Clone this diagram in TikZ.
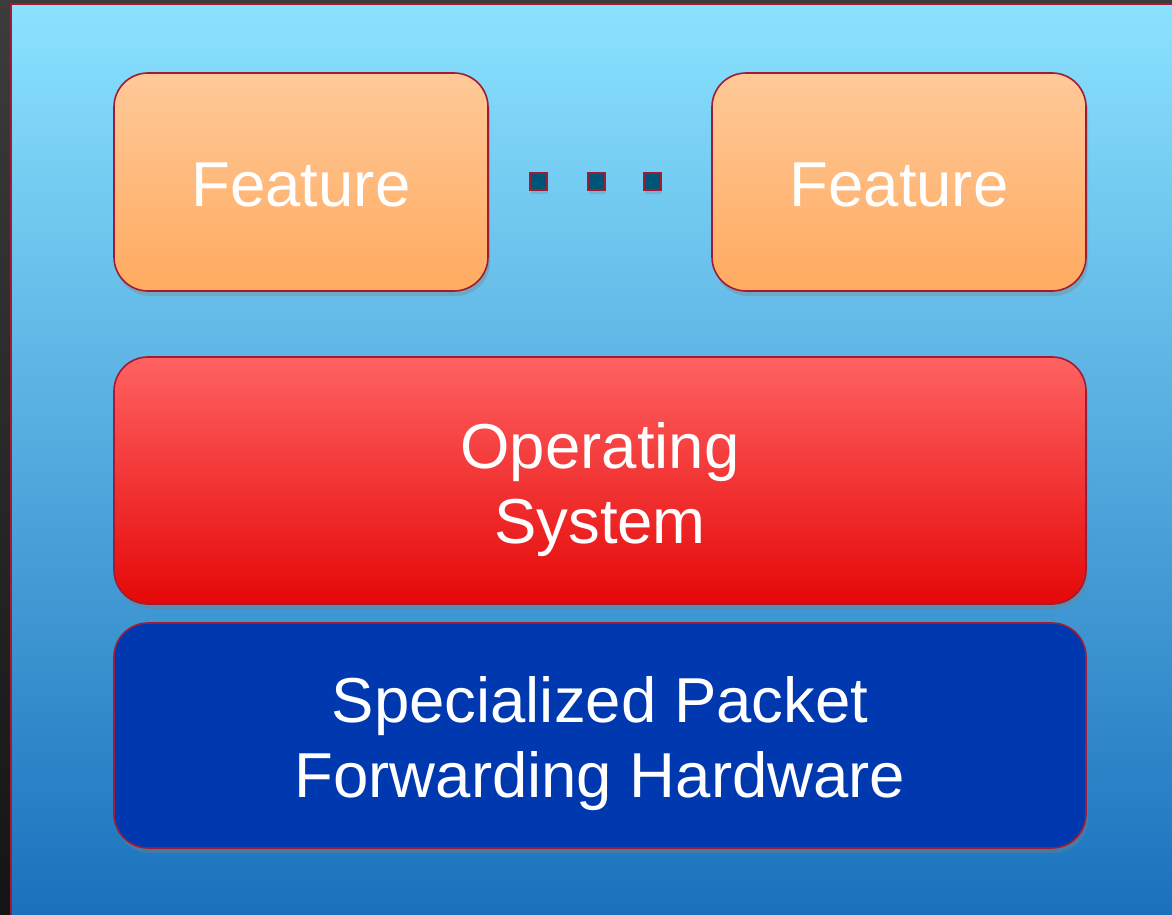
\documentclass[tikz,border=0pt]{standalone}
\usepackage{fontspec}
\setmainfont{Liberation Sans}
\usetikzlibrary{shadows}
\definecolor{frameA}{HTML}{3C3C3C}
\definecolor{frameB}{HTML}{141414}
\definecolor{skyTop}{HTML}{8BE2FF}
\definecolor{skyBot}{HTML}{1870BC}
\definecolor{edge}{HTML}{A01C34}
\definecolor{featTop}{HTML}{FFC998}
\definecolor{featBot}{HTML}{FFAA60}
\definecolor{osTop}{HTML}{FF6262}
\definecolor{osBot}{HTML}{E50808}
\definecolor{hwFill}{HTML}{0038B0}
\definecolor{dotFill}{HTML}{005577}
\tikzset{
  layer/.style={draw=edge, line width=1.6pt, rounded corners=34pt,
    drop shadow={opacity=0.35, shadow xshift=2pt, shadow yshift=-5pt}},
  layertext/.style={text=white, align=center, inner sep=0pt,
    font=\fontsize{63.5}{75}\selectfont},
  featurebox/.style={layer, top color=featTop, bottom color=featBot,
    minimum width=374pt, minimum height=218pt},
  osbox/.style={layer, top color=osTop, bottom color=osBot,
    minimum width=972pt, minimum height=247pt},
  hwbox/.style={layer, fill=hwFill, minimum width=972pt, minimum height=225pt},
  dotbox/.style={draw=edge, line width=2pt, fill=dotFill,
    minimum size=17pt, inner sep=0pt,
    drop shadow={opacity=0.3, shadow xshift=1pt, shadow yshift=-4pt}}
}
\begin{document}
\begin{tikzpicture}[x=1pt,y=-1pt]
  % page frame and sky-blue panel
  \useasboundingbox (0,0) rectangle (1172,915);
  \shade[top color=frameA, bottom color=frameB] (0,0) rectangle (1172,915);
  \shade[top color=skyTop, bottom color=skyBot, draw=edge, line width=1.6pt]
    (11,4) rectangle (1180,925);
  % feature layer
  \node[featurebox] (f1) at (301,182) {};
  \node[featurebox] (f2) at (899,182) {};
  \node[layertext] (f1t) at ([yshift=-3pt]f1.center) {Feature};
  \node[layertext] (f2t) at ([yshift=-3pt]f2.center) {Feature};
  \node[dotbox] (d1) at (538,181) {};
  \node[dotbox] (d2) at (596,181) {};
  \node[dotbox] (d3) at (652,181) {};
  % operating system and hardware layers
  \node[osbox] (os) at (600,480.5) {};
  \node[hwbox] (hw) at (600,735.5) {};
  \node[layertext] (ost) at ([yshift=-9pt]os.center) {Operating\\System};
  \node[layertext] (hwt) at ([yshift=-8pt]hw.center) {Specialized Packet\\Forwarding Hardware};
\end{tikzpicture}
\end{document}
